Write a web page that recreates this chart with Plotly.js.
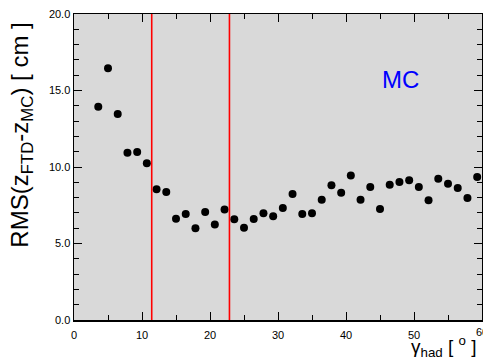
<!DOCTYPE html>
<html>
<head>
<meta charset="utf-8">
<script src="https://cdn.plot.ly/plotly-3.0.1.min.js"></script>
<style>html,body{margin:0;padding:0;background:#fff;}#chart{width:483px;height:363px;}</style>
</head>
<body>
<div id="chart"></div>
<script>
const gammaHad = [3.57, 5.00, 6.43, 7.86, 9.29, 10.71, 12.14, 13.57, 15.00, 16.43, 17.86, 19.29, 20.71, 22.14, 23.57, 25.00, 26.43, 27.86, 29.29, 30.71, 32.14, 33.57, 35.00, 36.43, 37.86, 39.29, 40.71, 42.14, 43.57, 45.00, 46.43, 47.86, 49.29, 50.71, 52.14, 53.57, 55.00, 56.43, 57.86, 59.29];
const rmsZ = [13.94, 16.45, 13.46, 10.93, 10.98, 10.24, 8.54, 8.37, 6.62, 6.93, 5.99, 7.06, 6.25, 7.23, 6.58, 6.03, 6.60, 6.97, 6.78, 7.32, 8.24, 6.93, 6.97, 7.86, 8.80, 8.32, 9.45, 7.86, 8.69, 7.25, 8.84, 9.02, 9.13, 8.69, 7.82, 9.24, 8.91, 8.63, 7.97, 9.35];
const cutLines = [11.43, 22.86];
const xTickVals = [0, 10, 20, 30, 40, 50];
const xEdgeTick = 60;
const yTickVals = [0, 5, 10, 15, 20];
const yTickText = ["0.0", "5.0", "10.0", "15.0", "20.0"];

const traces = [{
  type: 'scatter', mode: 'markers', x: gammaHad, y: rmsZ,
  marker: {color: '#000', size: 8, symbol: 'circle'},
  hoverinfo: 'none', cliponaxis: false
}];

const shapes = cutLines.map(v => ({
  type: 'line', xref: 'x', yref: 'paper', x0: v, x1: v, y0: 0, y1: 1,
  line: {color: '#ff0000', width: 1.6}
}));

const tickFont = {family: 'Liberation Sans, Arial, sans-serif', size: 11, color: '#000'};
const axisCommon = {
  showgrid: false, zeroline: false, showline: true, linecolor: '#000', linewidth: 1.5,
  ticks: 'inside', ticklen: 8, tickcolor: '#000', tickwidth: 1, mirror: 'ticks',
  tickfont: tickFont
};

const layout = {
  width: 483, height: 363,
  margin: {l: 74, r: 1, t: 14, b: 43, pad: 0},
  paper_bgcolor: '#ffffff', plot_bgcolor: '#d9d9d9',
  showlegend: false,
  xaxis: Object.assign({}, axisCommon, {
    range: [0, 60], tickvals: xTickVals.concat([xEdgeTick]), ticktext: xTickVals.map(String).concat(['']),
    ticklabelstandoff: 4,
    minor: {dtick: 5, ticks: 'inside', ticklen: 5, tickcolor: '#000', tickwidth: 1, showgrid: false}
  }),
  yaxis: Object.assign({}, axisCommon, {
    range: [0, 20], tickvals: yTickVals, ticktext: yTickText,
    minor: {dtick: 1, ticks: 'inside', ticklen: 5, tickcolor: '#000', tickwidth: 1, showgrid: false}
  }),
  shapes: shapes,
  annotations: [
    {text: 'MC', xref: 'paper', yref: 'paper', x: 0.80, y: 0.785, xanchor: 'center', yanchor: 'middle',
     showarrow: false, font: {family: 'Liberation Sans, Arial, sans-serif', size: 24, color: '#0000ff'}},
    {text: String(xEdgeTick), xref: 'x', yref: 'paper', x: xEdgeTick, y: 0, yshift: -4,
     xanchor: 'center', yanchor: 'top', showarrow: false, font: tickFont},
    {text: 'RMS(z<sub>FTD</sub>-z<sub>MC</sub>) [ cm ]', xref: 'paper', yref: 'paper', x: -0.128, y: 0.605,
     xanchor: 'center', yanchor: 'middle', textangle: -90, showarrow: false,
     font: {family: 'Liberation Sans, Arial, sans-serif', size: 24, color: '#000'}},
    {text: 'γ<sub>had</sub> [ <sup>o</sup> ]', xref: 'paper', yref: 'paper', x: 0.993, y: -0.036,
     xanchor: 'right', yanchor: 'top', showarrow: false,
     font: {family: 'Liberation Sans, Arial, sans-serif', size: 19, color: '#000'}}
  ]
};

Plotly.newPlot('chart', traces, layout, {staticPlot: true, displayModeBar: false});
</script>
</body>
</html>
